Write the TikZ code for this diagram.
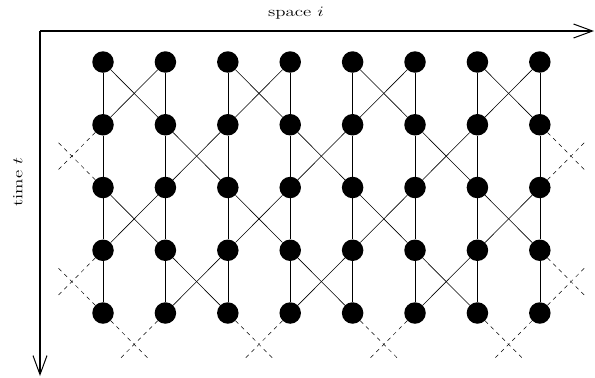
\documentclass[tikz,border=0pt]{standalone}
\usepackage{amsmath}
\usepackage{graphicx}
\usetikzlibrary{arrows.meta, positioning, calc}
\newcommand{\widelabel}[1]{\scalebox{1.35}[1]{#1}}

\begin{document}
\begin{tikzpicture}[
	x=1bp, y=1bp,
	site/.style={circle, fill=black, inner sep=0pt, minimum size=21.5bp},
	link/.style={line width=.6bp},
	ghostlink/.style={line width=.5bp, dash pattern=on 4bp off 4bp, shorten >=22bp},
	axis/.style={line width=1.1bp, -{Straight Barb[length=19bp, width=14bp, line width=1bp]}},
	axislabel/.style={font=\fontsize{14}{16}\selectfont, inner sep=0pt}
	]
	\useasboundingbox (0,0) rectangle (595,-377);
	
	% axes
	\coordinate (origin) at (40,-31);
	\coordinate (space-end) at (594,-31);
	\coordinate (time-end) at (40,-376);
	\draw[axis] (origin) -- (space-end);
	\draw[axis] (origin) -- (time-end);
	\node[axislabel] (space-label) at (296,-13) {\widelabel{space $i$}};
	\node[axislabel, rotate=90] (time-label) at (18,-182) {\widelabel{time $t$}};
	
	% lattice: columns 1..8, rows 1..5 (0, 9 and 6 are only ghost points)
	\foreach \c in {0,...,9}
		\foreach \r in {1,...,6}
			\coordinate (g-\c-\r) at ({40.6+62.4*\c},{-(-0.75+62.75*\r)});
	\foreach \c in {1,...,8}
		\foreach \r in {1,...,5}
			\node[site] (n-\c-\r) at (g-\c-\r) {};
	
	% vertical links
	\foreach \c in {1,...,8}
		\foreach \r/\s in {1/2,2/3,3/4,4/5}
			\draw[link] (n-\c-\r) -- (n-\c-\s);
	
	% crossings between rows 1-2 and 3-4
	\foreach \r/\s in {1/2,3/4}
		\foreach \a/\b in {1/2,3/4,5/6,7/8} {
			\draw[link] (n-\a-\r) -- (n-\b-\s);
			\draw[link] (n-\b-\r) -- (n-\a-\s);
		}
	
	% crossings between rows 2-3 and 4-5, ghosts at the sides
	\foreach \r/\s in {2/3,4/5} {
		\foreach \a/\b in {2/3,4/5,6/7} {
			\draw[link] (n-\a-\r) -- (n-\b-\s);
			\draw[link] (n-\b-\r) -- (n-\a-\s);
		}
		\draw[ghostlink] (n-1-\r) -- (g-0-\s);
		\draw[ghostlink] (n-1-\s) -- (g-0-\r);
		\draw[ghostlink] (n-8-\r) -- (g-9-\s);
		\draw[ghostlink] (n-8-\s) -- (g-9-\r);
	}
	
	% ghosts below the last row
	\foreach \a/\b in {1/2,3/4,5/6,7/8} {
		\draw[ghostlink] (n-\a-5) -- (g-\b-6);
		\draw[ghostlink] (n-\b-5) -- (g-\a-6);
	}
\end{tikzpicture}
\end{document}
